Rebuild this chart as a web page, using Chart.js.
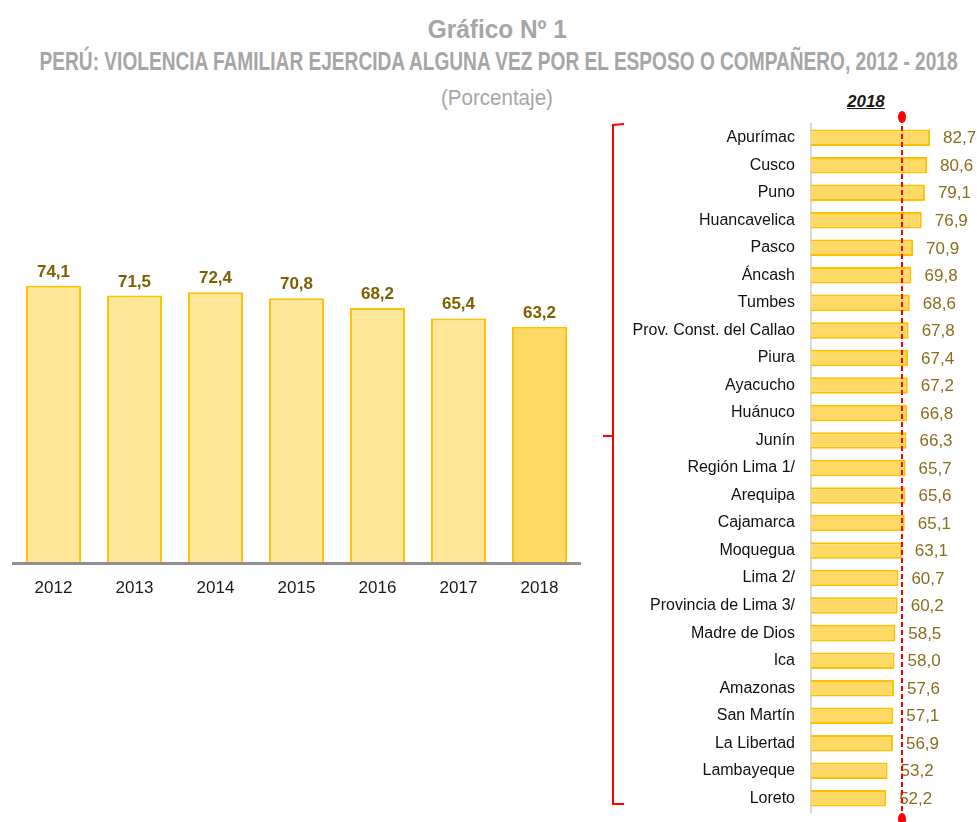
<!DOCTYPE html>
<html lang="es">
  <head>
    <meta charset="UTF-8" />
    <title>Violencia familiar 2012 - 2018</title>
    <script src="https://cdn.jsdelivr.net/npm/chart.js@4.4.1/dist/chart.umd.min.js"></script>
    <style>
      body {
        margin: 0;
        width: 977px;
        height: 822px;
        background: #ffffff;
        position: relative;
        overflow: hidden;
        font-family: "Liberation Sans Narrow", "Liberation Sans", Arial, sans-serif;
      }
      .titulo {
        position: absolute;
        color: #a6a6a6;
        white-space: nowrap;
        transform-origin: center top;
      }
      #t1 { top: 15px; font-size: 25px; font-weight: bold; }
      #t2 { top: 47px; font-size: 25px; font-weight: bold; }
      #t3 { top: 85px; font-size: 22px; }
      #anio {
        position: absolute;
        left: 847px;
        top: 92px;
        font-family: "Liberation Sans", Arial, sans-serif;
        font-size: 17px;
        font-style: italic;
        font-weight: bold;
        text-decoration: underline;
        color: #1a1a1a;
      }
      #leftChart { position: absolute; left: 0; top: 130px; }
      #rightChart { position: absolute; left: 590px; top: 105px; }
    </style>
  </head>
  <body>
    <div class="titulo" id="t1" data-cx="497" data-w="139">Gráfico Nº 1</div>
    <div class="titulo" id="t2" data-cx="499" data-w="918">PERÚ: VIOLENCIA FAMILIAR EJERCIDA ALGUNA VEZ POR EL ESPOSO O COMPAÑERO, 2012 - 2018</div>
    <div class="titulo" id="t3" data-cx="497" data-w="112">(Porcentaje)</div>
    <div id="anio">2018</div>

    <canvas id="leftChart" width="590" height="480"></canvas>
    <canvas id="rightChart" width="387" height="717"></canvas>

    <script>
      // national series
      const years = ["2012", "2013", "2014", "2015", "2016", "2017", "2018"];
      const nationalValues = [74.1, 71.5, 72.4, 70.8, 68.2, 65.4, 63.2];

      // departments, 2018
      const regions = [
        "Apurímac", "Cusco", "Puno", "Huancavelica", "Pasco", "Áncash", "Tumbes",
        "Prov. Const. del Callao", "Piura", "Ayacucho", "Huánuco", "Junín",
        "Región Lima 1/", "Arequipa", "Cajamarca", "Moquegua", "Lima 2/",
        "Provincia de Lima 3/", "Madre de Dios", "Ica", "Amazonas", "San Martín",
        "La Libertad", "Lambayeque", "Loreto",
      ];
      const regionValues = [
        82.7, 80.6, 79.1, 76.9, 70.9, 69.8, 68.6, 67.8, 67.4, 67.2, 66.8, 66.3,
        65.7, 65.6, 65.1, 63.1, 60.7, 60.2, 58.5, 58.0, 57.6, 57.1, 56.9, 53.2, 52.2,
      ];
      const nationalRef = nationalValues[nationalValues.length - 1];

      const NARROW = '"Liberation Sans Narrow", "Liberation Sans", Arial, sans-serif';

      // squeeze the title lines to the width they have in the original
      document.querySelectorAll(".titulo").forEach((el) => {
        const w = el.getBoundingClientRect().width;
        const k = Number(el.dataset.w) / w;
        el.style.left = Number(el.dataset.cx) - w / 2 + "px";
        el.style.transform = "scaleX(" + k + ")";
      });

      function fmt(v) {
        return v.toFixed(1).replace(".", ",");
      }

      // draws the numbers next to the bars
      const valueLabels = {
        id: "valueLabels",
        afterDatasetsDraw(chart, args, opts) {
          const ctx = chart.ctx;
          const meta = chart.getDatasetMeta(0);
          const data = chart.data.datasets[0].data;
          ctx.save();
          ctx.font = opts.font;
          ctx.fillStyle = opts.color;
          meta.data.forEach((bar, i) => {
            if (opts.horizontal) {
              ctx.textAlign = "left";
              ctx.textBaseline = "middle";
              ctx.fillText(fmt(data[i]), bar.x + opts.offset, bar.y + 1);
            } else {
              ctx.textAlign = "center";
              ctx.textBaseline = "alphabetic";
              ctx.fillText(fmt(data[i]), bar.x, bar.y - opts.offset);
            }
          });
          ctx.restore();
        },
      };

      // red dashed line at the national value + bracket
      const refLine = {
        id: "refLine",
        afterDraw(chart) {
          const ctx = chart.ctx;
          const area = chart.chartArea;
          const x = chart.scales.x.getPixelForValue(nationalRef);
          ctx.save();
          ctx.strokeStyle = "#ff0000";
          ctx.fillStyle = "#ff0000";
          ctx.lineWidth = 2;
          ctx.setLineDash([5, 3]);
          ctx.beginPath();
          ctx.moveTo(x, area.top - 6);
          ctx.lineTo(x, area.bottom + 4);
          ctx.stroke();
          ctx.setLineDash([]);
          ctx.beginPath();
          ctx.ellipse(x, area.top - 7, 4, 6, 0, 0, Math.PI * 2);
          ctx.fill();
          ctx.beginPath();
          ctx.ellipse(x, area.bottom + 7, 4, 6, 0, 0, Math.PI * 2);
          ctx.fill();

          // bracket on the left
          const bx = 23;
          const top = area.top;
          const bottom = area.bottom - 8;
          const mid = (top + bottom) / 2 - 28;
          ctx.lineWidth = 2;
          ctx.beginPath();
          ctx.moveTo(bx + 11, top);
          ctx.lineTo(bx, top + 1);
          ctx.lineTo(bx, bottom);
          ctx.lineTo(bx + 11, bottom);
          ctx.stroke();
          ctx.beginPath();
          ctx.moveTo(bx - 10, mid);
          ctx.lineTo(bx, mid);
          ctx.stroke();
          ctx.restore();
        },
      };

      Chart.defaults.animation = false;
      Chart.defaults.font.family = NARROW;

      new Chart(document.getElementById("leftChart"), {
        type: "bar",
        data: {
          labels: years,
          datasets: [
            {
              data: nationalValues,
              backgroundColor: years.map((y, i) => (i === years.length - 1 ? "#ffd966" : "#ffe699")),
              borderColor: "#ffc000",
              borderWidth: 2,
              barPercentage: 0.68,
              categoryPercentage: 1,
            },
          ],
        },
        options: {
          responsive: false,
          layout: { padding: { left: 13, right: 10, top: 59, bottom: 0 } },
          plugins: {
            legend: { display: false },
            tooltip: { enabled: false },
            valueLabels: { font: "bold 17px " + NARROW, color: "#7f6000", offset: 9 },
          },
          scales: {
            x: {
              grid: { display: false, drawTicks: false },
              border: { display: true, color: "#8f8f8f", width: 3, z: 1 },
              ticks: { color: "#1a1a1a", font: { size: 17 }, padding: 15 },
              afterFit(scale) {
                scale.height = 47;
              },
            },
            y: { display: false, min: 0, max: 100 },
          },
        },
        plugins: [valueLabels],
      });

      new Chart(document.getElementById("rightChart"), {
        type: "bar",
        data: {
          labels: regions,
          datasets: [
            {
              data: regionValues,
              backgroundColor: "#ffd966",
              borderColor: "#ffc000",
              borderWidth: 2,
              barPercentage: 0.6,
              categoryPercentage: 1,
            },
          ],
        },
        options: {
          indexAxis: "y",
          responsive: false,
          layout: { padding: { left: 0, right: 22, top: 19, bottom: 10 } },
          plugins: {
            legend: { display: false },
            tooltip: { enabled: false },
            valueLabels: { font: "17px " + NARROW, color: "#8a6d1e", offset: 13, horizontal: true },
          },
          scales: {
            x: { display: false, min: 0, max: 100 },
            y: {
              grid: { display: false, drawTicks: false },
              border: { display: true, color: "#d9d9d9", width: 2 },
              ticks: { color: "#111111", font: { size: 16 }, padding: 16, autoSkip: false },
              afterFit(scale) {
                scale.width = 221;
                scale.paddingTop = 0;
                scale.paddingBottom = 0;
              },
            },
          },
        },
        plugins: [valueLabels, refLine],
      });
    </script>
  </body>
</html>
